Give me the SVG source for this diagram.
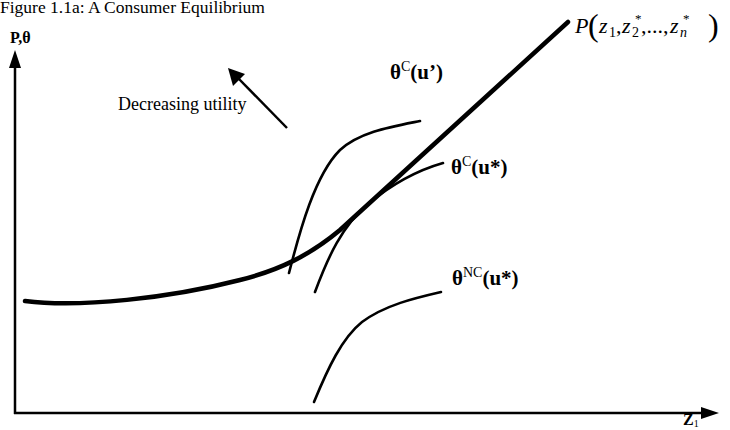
<svg xmlns="http://www.w3.org/2000/svg" width="730" height="430" viewBox="0 0 730 430">
<style>
text{font-family:"Liberation Serif","Times New Roman",serif;fill:#000}
.lbl{font-size:21px;font-weight:bold}
.axis{stroke:#000;stroke-width:2.5;fill:none}
.thin{stroke:#000;stroke-width:2.6;fill:none;stroke-linecap:round}
.thick{stroke:#000;stroke-width:4.5;fill:none;stroke-linecap:round}
</style>
<rect width="730" height="430" fill="#fff"/>
<g id="title"><text x="0" y="13" font-size="17.5">Figure 1.1a: A Consumer Equilibrium</text></g>
<g id="connectors">
<path id="y-axis" class="axis" d="M15,414 L15,66"/>
<path d="M15,50 L21,68 L9,68 z" fill="#000"/>
<path id="x-axis" class="axis" d="M14,413 L703,413"/>
<path d="M719,413 L701,407 L701,419 z" fill="#000"/>
<path id="util-arrow" d="M287,128 L238,78" stroke="#000" stroke-width="2.5" fill="none"/>
<path d="M228,68 L233,86 L245,74 z" fill="#000"/>
</g>
<g id="price-curve">
<path class="thick" d="M25,301 C80,308 170,298 240,280 C280,270 310,255 340,230 L568,22"/>
</g>
<g id="theta-u-prime">
<path class="thin" d="M289,273 C300,230 315,175 340,150 C360,132 390,127 420,121"/>
</g>
<g id="theta-u-star">
<path class="thin" d="M315,292 C328,257 342,226 368,204 C392,184 415,171 443,163"/>
</g>
<g id="theta-nc">
<path class="thin" d="M314,402 C328,368 342,338 362,322 C385,305 415,298 441,292"/>
</g>
<g id="labels">
<text x="10" y="43" font-size="16" font-weight="bold">P,θ</text>
<text x="118" y="110" font-size="18">Decreasing utility</text>
<text x="390" y="79" class="lbl">θ<tspan font-size="14" font-weight="normal" dy="-8">C</tspan><tspan dy="8">(u’)</tspan></text>
<text x="451" y="174" class="lbl">θ<tspan font-size="14" font-weight="normal" dy="-8">C</tspan><tspan dy="8">(u*)</tspan></text>
<text x="452" y="285" class="lbl">θ<tspan font-size="14" font-weight="normal" dy="-8">NC</tspan><tspan dy="8">(u*)</tspan></text>
<text x="683" y="425" font-size="16" font-weight="bold">Z<tspan font-size="10" font-weight="normal" dy="2">1</tspan></text>
<text y="33" font-size="22" font-style="italic"><tspan x="575">P</tspan><tspan x="588" font-size="32" font-style="normal" dy="3">(</tspan><tspan x="599" dy="-3">z</tspan><tspan x="609" font-size="14" font-style="normal" dy="4">1</tspan><tspan x="616" font-style="normal" dy="-4">,</tspan><tspan x="622">z</tspan><tspan x="635" font-size="13" font-style="normal" dy="-10">*</tspan><tspan x="632" font-size="14" font-style="normal" dy="14">2</tspan><tspan x="641" font-style="normal" dy="-4">,...,</tspan><tspan x="670">z</tspan><tspan x="683" font-size="13" font-style="normal" dy="-10">*</tspan><tspan x="680" font-size="14" dy="14">n</tspan><tspan x="708" font-size="32" font-style="normal" dy="-1">)</tspan></text>
</g>
</svg>
